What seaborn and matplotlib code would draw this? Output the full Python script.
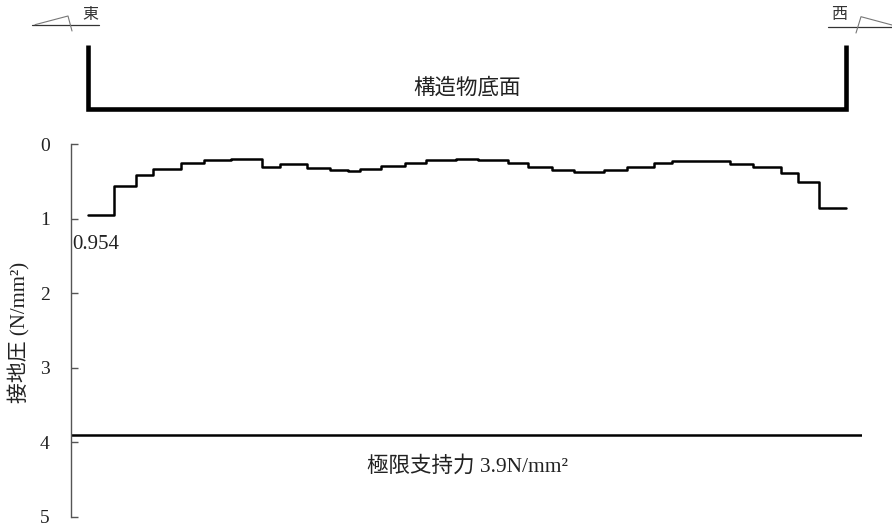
import numpy as np
import pandas as pd
import seaborn as sns
import matplotlib.pyplot as plt

# positions along the base (m) where the pressure steps change, east -> west
edges = [0, 1.7, 3.2, 4.3, 6.2, 7.7, 9.5, 11.6, 12.8, 14.6, 16.1, 17.3, 18.1,
         19.5, 21.1, 22.5, 24.5, 26.0, 28.0, 29.3, 30.9, 32.4, 34.4, 35.9,
         37.7, 38.9, 41.0, 42.8, 44.3, 46.2, 47.3, 48.7, 50.5]
# contact pressure (N/mm2) per segment
pressure = [0.954, 0.56, 0.41, 0.33, 0.25, 0.215, 0.20, 0.31, 0.27, 0.32,
            0.345, 0.36, 0.33, 0.29, 0.25, 0.215, 0.20, 0.215, 0.255, 0.30,
            0.345, 0.37, 0.345, 0.30, 0.255, 0.225, 0.22, 0.26, 0.305, 0.38,
            0.50, 0.85]
limit = 3.9
yticks = [0, 1, 2, 3, 4, 5]

sns.set_theme(style="white")
plt.rcParams['font.family'] = ['Liberation Serif', 'Noto Sans CJK JP']
plt.rcParams['axes.unicode_minus'] = False

W, H = 892, 532
fig = plt.figure(figsize=(W / 100, H / 100), dpi=100)
# main axes: left spine at x=70.7px, y from 0 (144.3px) to 5 (516.7px)
ax = fig.add_axes([70.7 / W, (H - 516.7) / H, (862 - 70.7) / W, (516.7 - 144.3) / H])

df = pd.DataFrame({"x": edges, "p": pressure + [pressure[-1]]})
sns.lineplot(data=df, x="x", y="p", ax=ax, drawstyle="steps-post",
             color="black", lw=1.8, sort=False, clip_on=False)

ax.set_xlim((70.7 - 88.3) / 15, (862 - 88.3) / 15)
ax.set_ylim(5, 0)
ax.axhline(limit, color="black", lw=1.8)

for s in ["top", "right", "bottom"]:
    ax.spines[s].set_visible(False)
ax.spines["left"].set_color("#555555")
ax.spines["left"].set_linewidth(1.0)
ax.set_xticks([])
ax.set_yticks(yticks)
ax.set_yticklabels([str(t) for t in yticks])
ax.tick_params(axis="y", direction="in", length=5, width=1.0, color="#555555",
               pad=15, labelsize=14, labelcolor="#222222", left=True)
ax.set_xlabel("")
ax.set_ylabel("")

ax.text(-1.1, pressure[0] + 0.39, "0.954", fontsize=15, color="#222222",
        ha="left", va="center")
mid = (edges[0] + edges[-1]) / 2
ax.text(mid, limit + 0.42, "極限支持力 3.9N/mm²", fontsize=15.5, color="#222222",
        ha="center", va="center")
ax.text(-4.6, 2.53, "接地圧 (N/mm²)", fontsize=15, color="#222222",
        rotation=90, ha="center", va="center", clip_on=False)

# structure base bracket
ax.plot([edges[0], edges[0], edges[-1], edges[-1]], [-1.33, -0.468, -0.468, -1.33],
        color="black", lw=3.3, clip_on=False, solid_joinstyle="miter",
        solid_capstyle="butt")
ax.text(mid, -0.75, "構造物底面", fontsize=15.5, color="#222222",
        ha="center", va="center", clip_on=False)

# direction markers (pixel overlay)
deco = fig.add_axes([0, 0, 1, 1], facecolor="none")
deco.set_xlim(0, W)
deco.set_ylim(H, 0)
deco.axis("off")
deco.plot([32, 99], [25, 25], color="#333333", lw=0.9)
deco.plot([35, 68, 72], [24.7, 16, 31], color="#777777", lw=0.8)
deco.text(90.5, 15, "東", fontsize=11.5, color="#333333", ha="center", va="center")
deco.plot([828, 892], [26.5, 26.5], color="#333333", lw=0.9)
deco.plot([856, 861, 892], [33, 16.7, 25], color="#777777", lw=0.8)
deco.text(839.5, 15, "西", fontsize=11.5, color="#333333", ha="center", va="center")

fig.savefig("out.png", dpi=100)
